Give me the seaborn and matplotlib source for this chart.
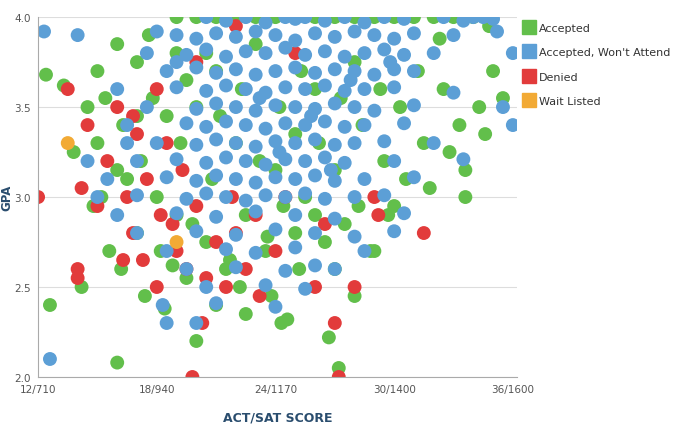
import pandas as pd
import seaborn as sns
import matplotlib.pyplot as plt
from matplotlib.lines import Line2D

# ACT score (x) and GPA (y)
acc_x = [12.4, 13.3, 12.6, 14.2, 13.8, 14.5, 15.0, 15.4, 15.2, 15.6, 16.0, 16.3, 16.5, 16.2, 17.0, 17.2, 17.0, 17.4,
         17.6, 17.8, 18.0, 18.2, 18.4, 16.0, 19.0, 19.5, 19.2, 19.0, 19.5, 20.0, 20.0, 20.5, 20.8, 20.5, 21.0, 21.2,
         21.5, 21.0, 22.0, 22.3, 22.5, 22.2, 23.0, 23.2, 23.5, 23.8, 24.0, 24.2, 24.4, 24.3, 24.6, 25.0, 25.3, 25.5,
         25.2, 26.0, 26.2, 26.5, 26.7, 27.0, 27.3, 27.5, 27.2, 28.0, 28.4, 28.2, 28.8, 29.0, 29.3, 29.5, 29.7, 30.0,
         30.3, 30.6, 31.0, 31.2, 31.5, 31.8, 32.0, 32.5, 32.8, 33.0, 33.3, 33.6, 33.6, 34.0, 34.3, 34.6, 35.0, 35.5,
         22.0, 23.0, 25.0, 26.0, 27.0, 28.0, 21.0, 20.0, 18.5, 19.0, 17.0, 16.0, 15.0, 24.0, 26.0, 25.0, 29.0, 30.0,
         27.0, 28.0, 22.5, 19.8, 21.7, 23.6, 32.3, 34.8, 18.8, 14.8]
acc_y = [3.68, 3.62, 2.40, 2.50, 3.25, 3.50, 3.70, 3.55, 3.00, 2.70, 3.85, 3.40, 3.10, 2.60, 3.75, 3.20, 2.80, 2.45,
         3.90, 3.55, 3.00, 2.70, 2.38, 2.08, 4.00, 3.65, 3.30, 2.90, 2.55, 2.20, 4.00, 3.80, 3.10, 2.75, 4.00, 3.45,
         2.60, 2.40, 4.00, 3.60, 2.90, 2.50, 4.00, 3.20, 2.70, 2.45, 4.00, 3.50, 2.95, 2.30, 2.32, 4.00, 3.70, 3.00,
         2.60, 4.00, 3.30, 2.75, 2.22, 4.00, 3.55, 2.85, 2.05, 4.00, 3.40, 2.95, 2.70, 4.00, 3.60, 3.20, 2.90, 4.00,
         3.50, 3.10, 4.00, 3.70, 3.30, 3.05, 4.00, 3.60, 3.25, 4.00, 3.40, 3.15, 3.00, 4.00, 3.50, 3.35, 3.70, 3.55,
         3.30, 3.85, 3.35, 3.60, 3.15, 3.75, 3.70, 3.50, 3.45, 3.80, 3.45, 3.15, 3.30, 3.15, 2.90, 2.80, 2.70, 2.95,
         2.60, 2.45, 2.35, 2.85, 2.65, 2.78, 3.88, 3.95, 2.62, 2.95]

wont_x = [20.5, 21.5, 22.5, 23.5, 24.5, 25.0, 25.5, 26.5, 27.5, 28.5, 29.5, 30.5, 32.5, 33.5, 34.0, 34.5, 35.0,
          18.0, 19.0, 20.0, 21.0, 22.0, 23.0, 24.0, 25.0, 26.0, 27.0, 28.0, 29.0, 30.0, 31.0, 33.0, 35.2,
          17.5, 19.5, 20.5, 21.5, 22.5, 23.5, 24.5, 25.5, 26.5, 27.5, 28.5, 29.5, 30.5, 32.0, 36.0,
          18.5, 20.0, 21.0, 22.0, 23.0, 24.0, 25.0, 26.0, 27.0, 28.0, 29.0, 30.0, 31.0,
          16.0, 19.0, 20.5, 21.5, 22.5, 23.5, 24.5, 25.5, 26.5, 27.5, 28.5, 30.0, 33.0,
          17.5, 20.0, 21.0, 22.0, 23.0, 24.0, 25.0, 26.0, 27.0, 28.0, 29.0, 31.0, 35.5,
          16.5, 19.5, 20.5, 21.5, 22.5, 23.5, 24.5, 25.5, 26.5, 27.5, 28.5, 30.5, 36.0,
          14.5, 18.0, 20.0, 21.0, 22.0, 23.0, 24.0, 25.0, 26.0, 27.0, 28.0, 29.5, 32.0,
          17.0, 19.0, 20.5, 21.5, 22.5, 23.5, 24.5, 25.5, 26.5, 27.5, 30.0, 33.5,
          15.5, 18.5, 20.0, 21.0, 22.0, 23.0, 24.0, 25.0, 26.0, 27.0, 28.5, 31.0,
          15.0, 17.0, 19.5, 20.5, 21.5, 22.5, 23.5, 24.5, 25.5, 26.5, 28.0, 29.5,
          16.0, 19.0, 21.0, 23.0, 25.0, 27.0, 30.5,
          17.0, 20.0, 22.0, 24.0, 26.0, 28.0, 30.0,
          18.5, 21.5, 23.0, 25.0, 28.5, 19.5, 22.0, 24.5, 26.0, 27.0,
          20.5, 23.5, 25.5, 18.3, 21.0, 24.0, 18.5, 20.0, 12.6, 12.3, 14.0, 16.5, 19.0,
          24.2, 25.8, 27.8, 23.2, 26.8, 29.8]
wont_y = [4.00, 3.98, 4.00, 3.97, 4.00, 3.99, 4.00, 3.98, 4.00, 3.97, 4.00, 3.99, 4.00, 3.98, 4.00, 4.00, 3.99,
          3.92, 3.90, 3.88, 3.91, 3.89, 3.92, 3.90, 3.87, 3.91, 3.89, 3.92, 3.90, 3.88, 3.91, 3.90, 3.92,
          3.80, 3.79, 3.82, 3.78, 3.81, 3.80, 3.83, 3.79, 3.81, 3.78, 3.80, 3.82, 3.79, 3.80, 3.80,
          3.70, 3.72, 3.69, 3.71, 3.68, 3.70, 3.72, 3.69, 3.71, 3.70, 3.68, 3.71, 3.70,
          3.60, 3.61, 3.59, 3.62, 3.60, 3.58, 3.61, 3.60, 3.62, 3.59, 3.60, 3.61, 3.58,
          3.50, 3.49, 3.52, 3.50, 3.48, 3.51, 3.50, 3.49, 3.52, 3.50, 3.48, 3.51, 3.50,
          3.40, 3.41, 3.39, 3.42, 3.40, 3.38, 3.41, 3.40, 3.42, 3.39, 3.40, 3.41, 3.40,
          3.20, 3.30, 3.29, 3.32, 3.30, 3.28, 3.31, 3.30, 3.32, 3.29, 3.30, 3.31, 3.30,
          3.20, 3.21, 3.19, 3.22, 3.20, 3.18, 3.21, 3.20, 3.22, 3.19, 3.20, 3.21,
          3.10, 3.11, 3.09, 3.12, 3.10, 3.08, 3.11, 3.10, 3.12, 3.09, 3.10, 3.11,
          3.00, 3.01, 2.99, 3.02, 3.00, 2.98, 3.01, 3.00, 3.02, 2.99, 3.00, 3.01,
          2.90, 2.91, 2.89, 2.92, 2.90, 2.88, 2.91,
          2.80, 2.81, 2.79, 2.82, 2.80, 2.78, 2.81,
          2.70, 2.71, 2.69, 2.72, 2.70, 2.60, 2.61, 2.59, 2.62, 2.60,
          2.50, 2.51, 2.49, 2.40, 2.41, 2.39, 2.30, 2.30, 2.10, 3.92, 3.90, 3.30, 3.75,
          3.25, 3.45, 3.65, 3.55, 3.15, 3.75]

den_x = [12.0, 13.5, 14.2, 14.0, 14.0, 14.5, 15.0, 15.5, 16.0, 16.3, 16.5, 16.8, 17.0, 17.3, 17.5, 18.0,
         18.2, 18.5, 18.8, 19.0, 19.3, 19.5, 19.8, 20.0, 20.3, 20.5, 21.0, 21.5, 21.8, 22.0, 22.5, 23.0,
         23.2, 24.0, 24.5, 25.0, 26.0, 26.5, 27.0, 27.2, 28.0, 29.0, 29.2, 31.5, 22.0, 20.0, 18.0, 16.8]
den_y = [3.00, 3.60, 3.05, 2.60, 2.55, 3.40, 2.95, 3.20, 3.50, 2.65, 3.00, 2.80, 3.35, 2.65, 3.10, 2.50,
         2.90, 3.30, 2.85, 2.70, 3.15, 2.60, 2.00, 2.95, 2.30, 2.55, 2.75, 2.50, 3.00, 2.80, 2.60, 2.90,
         2.45, 2.70, 3.00, 3.80, 2.50, 2.85, 2.30, 2.00, 2.50, 3.00, 2.90, 2.80, 3.95, 3.75, 3.60, 3.45]

wait_x = [13.5, 19.0]
wait_y = [3.30, 2.75]

groups = ['Accepted', "Accepted, Won't Attend", 'Denied', 'Wait Listed']
colors = ['#62bf4b', '#5c9fd6', '#e23b3b', '#f2aa35']
xs = [acc_x, wont_x, den_x, wait_x]
ys = [acc_y, wont_y, den_y, wait_y]

frames = [pd.DataFrame({'act': x, 'gpa': y, 'status': g}) for x, y, g in zip(xs, ys, groups)]
order = [0, 2, 1, 3]  # draw order: green, red, blue, orange
df = pd.concat([frames[i] for i in order], ignore_index=True)

sns.set_style('white')
fig = plt.figure(figsize=(6.8, 4.31), dpi=100)
ax = fig.add_axes([0.056, 0.123, 0.704, 0.835])
sns.scatterplot(data=df, x='act', y='gpa', hue='status', hue_order=groups, palette=colors,
                s=100, linewidth=0, alpha=1, legend=False, ax=ax)

ax.set_xlim(12, 36.2)
ax.set_ylim(2.0, 4.0)
ax.set_xticks([12, 18, 24, 30, 36])
ax.set_xticklabels(['12/710', '18/940', '24/1170', '30/1400', '36/1600'])
ax.set_yticks([2.0, 2.5, 3.0, 3.5, 4.0])
ax.set_yticklabels(['2.0', '2.5', '3.0', '3.5', '4.0'])
ax.tick_params(labelsize=7.5, colors='#555555', length=3, pad=2)
ax.yaxis.grid(True, color='#dddddd', lw=0.8)
ax.set_axisbelow(True)
for s in ['top', 'right']:
    ax.spines[s].set_visible(False)
for s in ['left', 'bottom']:
    ax.spines[s].set_color('#aaaaaa')
ax.set_xlabel('ACT/SAT SCORE', fontsize=9, fontweight='bold', color='#2a4d6e', labelpad=12)
ax.set_ylabel('GPA', fontsize=8.5, fontweight='bold', color='#2a4d6e', labelpad=1)

handles = [Line2D([], [], marker='s', ls='', color=c, markersize=10) for c in colors]
fig.legend(handles, groups, loc='upper left', bbox_to_anchor=(0.765, 0.95), frameon=False,
           fontsize=8, labelspacing=1.3, handletextpad=0.3, handlelength=1.2,
           borderaxespad=0, borderpad=0.2, labelcolor='#333333')

fig.savefig('out.png', dpi=100)
